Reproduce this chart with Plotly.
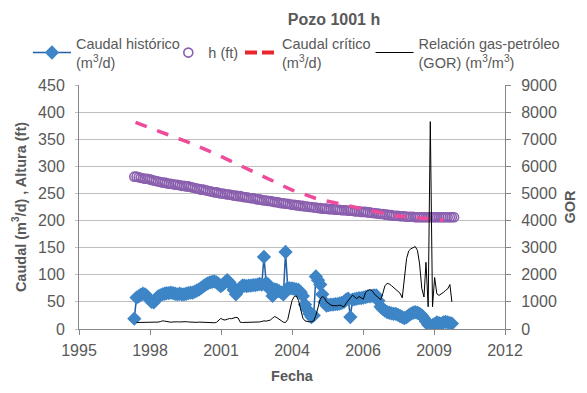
import datetime as dt
import pandas as pd
import plotly.graph_objects as go

# ---------------- data ----------------
# monthly sampling dates (mid-month) starting Dec 1997
month_dates = pd.date_range("1997-12-01", periods=149, freq="MS") + pd.Timedelta(days=14)

caudal_historico = [
    19,
    58, 60, 63, 65, 64, 60, 55, 50, 49, 55, 60, 62,
    64, 65, 66, 66, 67, 66, 65, 64, 65, 64, 64, 65,
    66, 67, 67, 69, 71, 73, 76, 79, 82, 84, 86, 87,
    88, 86, 83, 79, 82, 86, 90, 86, 80, 72, 64, 70,
    76, 80, 80, 79, 80, 80, 81, 81, 82, 83, 82, 133,
    85, 82, 72, 61, 73, 72, 70, 67, 64, 142, 76, 75,
    75, 74, 73, 72, 68, 61, 45, 36, 28, 22, 25, 97,
    90, 82, 64, 50, 43, 44, 45, 45, 46, 46, 47, 48,
    50, 54, 56, 22, 54, 55, 56, 57, 57, 58, 59, 60,
    60, 61, 62, 62, 52, 41, 37, 34, 31, 30, 29, 28,
    28, 26, 24, 22, 20, 22, 25, 28, 30, 31, 30, 28,
    25, 20, 14, 8, 5, 7, 9, 12, 11, 10, 12, 13,
    12, 11, 10,
]

h_ft = [
    281,
    281, 280, 279, 278, 277, 277, 276, 275, 274, 273, 272, 271,
    270, 270, 269, 268, 268, 267, 266, 266, 265, 264, 264, 263,
    263, 262, 261, 260, 259, 258, 257, 257, 256, 255, 254, 253,
    252, 252, 251, 250, 250, 249, 248, 248, 247, 246, 246, 245,
    245, 244, 243, 243, 242, 241, 241, 240, 239, 239, 238, 237,
    237, 236, 236, 235, 234, 234, 233, 232, 232, 231, 231, 230,
    229, 229, 228, 228, 227, 227, 226, 226, 225, 225, 224, 224,
    223, 223, 222, 222, 222, 221, 221, 221, 220, 220, 220, 219,
    219, 219, 218, 218, 218, 217, 217, 217, 216, 216, 216, 215,
    215, 214, 214, 213, 213, 212, 212, 211, 211, 210, 210, 209,
    209, 209, 208, 208, 208, 207, 207, 207, 207, 206, 206, 206,
    206, 206, 206, 206, 206, 206, 206, 206, 206, 206, 206, 206,
    206, 206, 206, 206,
]

gor = [
    240, 240, 235, 240, 245, 240, 245, 250, 250, 245, 255, 270,
    300, 290, 270, 255, 250, 260, 270, 265, 260, 270, 280, 270,
    260, 250, 245, 240, 245, 255, 250, 240, 235, 240, 250, 245,
    230, 245, 300, 390, 350, 330, 360, 385, 380, 400, 430, 410,
    250, 240, 240, 245, 245, 240, 240, 245, 250, 260, 280, 300,
    290, 300, 330, 400, 460, 420, 360, 300, 250, 240, 350, 700,
    1050, 1200, 1220, 1050, 700, 400, 300, 270, 260, 270, 300, 500,
    800, 1100, 1200, 1150, 1000, 920, 880, 860, 850, 860, 880, 850,
    820, 950, 1050, 1150, 1250, 1180, 1120, 1200, 1150, 1100, 1350, 1420,
    1450, 1420, 1300, 1230, 1180, 1080, 1300, 1600, 1680, 1660, 1600, 1530,
    1460, 1400, 1320, 1150, 1800, 2600, 2880, 2960, 3000, 3040, 2900, 2400,
    1500, 1180, 2460, 820, 7650, 820, 1900, 1300, 1240, 1280, 1350, 1420,
    1480, 1640, 1000,
]

critico_dates = ["1998-01-01", "1999-01-01", "2000-01-01", "2001-01-01", "2002-01-01",
                 "2003-01-01", "2004-01-01", "2005-01-01", "2006-01-01", "2007-01-01",
                 "2008-01-01", "2009-01-01", "2009-11-15"]
caudal_critico = [381, 363, 345, 325, 302, 279, 257, 240, 229, 219, 209, 204, 201]

tick_labels = ["1995", "1998", "2001", "2004", "2006", "2009", "2012"]
tick_serials = [35000, 36000, 37000, 38000, 39000, 40000, 41000]

# ---------------- helpers ----------------
def serial_to_date(s):
    return dt.datetime(1899, 12, 30) + dt.timedelta(days=s)

tick_dates = [serial_to_date(s) for s in tick_serials]
x_range = [tick_dates[0], tick_dates[-1]]

GREY = "#595959"
FONT = "Liberation Sans, Arial, sans-serif"

W, H = 587, 393
L, R, T, B = 79, 513, 85, 334
pw, ph = R - L, B - T

def px2x(px):
    return (px - L) / pw

def py2y(py):
    return (B - py) / ph

fig = go.Figure()

fig.add_trace(go.Scatter(
    x=month_dates[:len(caudal_historico)], y=caudal_historico,
    mode="lines+markers",
    name="Caudal histórico<br>(m<sup>3</sup>/d)",
    line=dict(color="#245fa6", width=1.5),
    marker=dict(symbol="diamond", size=11, color="#3d85c6"),
    legend="legend",
))

fig.add_trace(go.Scatter(
    x=month_dates[:len(h_ft)], y=h_ft,
    mode="markers",
    name="h (ft)",
    marker=dict(symbol="circle-open", size=9, color="#8a5fae", line=dict(width=1.6, color="#8a5fae")),
    legend="legend2",
))

fig.add_trace(go.Scatter(
    x=critico_dates, y=caudal_critico,
    mode="lines",
    name="Caudal crítico<br>(m<sup>3</sup>/d)",
    line=dict(color="#ee4c9b", width=3.5, dash="12px,11px"),
    showlegend=False,
))
# legend swatch for the critical flow (shown in red in the reference legend)
fig.add_trace(go.Scatter(
    x=[None], y=[None],
    mode="lines",
    name="Caudal crítico<br>(m<sup>3</sup>/d)",
    line=dict(color="#e8262c", width=4, dash="12px,5px"),
    legend="legend3",
))

fig.add_trace(go.Scatter(
    x=month_dates[1:1 + len(gor)], y=gor,
    mode="lines",
    name="Relación gas-petróleo<br>(GOR) (m<sup>3</sup>/m<sup>3</sup>)",
    line=dict(color="#000000", width=1),
    yaxis="y2",
    legend="legend4",
))

legend_common = dict(
    orientation="v",
    bgcolor="rgba(0,0,0,0)",
    borderwidth=0,
    font=dict(family=FONT, size=14.5, color=GREY),
    xanchor="left",
    yanchor="middle",
    valign="middle",
    tracegroupgap=0,
)

fig.update_layout(
    width=W, height=H,
    margin=dict(l=L, r=W - R, t=T, b=H - B, pad=0),
    paper_bgcolor="white",
    plot_bgcolor="white",
    font=dict(family=FONT, color=GREY),
    title=dict(
        text="<b>Pozo 1001 h</b>",
        x=334 / W, xanchor="center",
        y=1 - 19 / H, yanchor="middle",
        font=dict(family=FONT, size=16, color=GREY),
    ),
    xaxis=dict(
        type="date",
        range=x_range,
        tickmode="array",
        tickvals=tick_dates,
        ticktext=tick_labels,
        ticks="outside", ticklen=5, tickcolor="#868686",
        ticklabelstandoff=2,
        showline=True, linecolor="#868686", linewidth=1,
        showgrid=False, zeroline=False,
        tickfont=dict(family=FONT, size=16, color=GREY),
        title=dict(text="<b>Fecha</b>", font=dict(family=FONT, size=14.5, color=GREY), standoff=12),
    ),
    yaxis=dict(
        range=[0, 450], dtick=50, tick0=0,
        ticks="outside", ticklen=3, tickcolor="#bfbfbf",
        ticklabelstandoff=7,
        showline=True, linecolor="#868686", linewidth=1,
        showgrid=True, gridcolor="#bfbfbf", gridwidth=1,
        zeroline=False,
        tickfont=dict(family=FONT, size=16, color=GREY),
        title=dict(text="<b>Caudal (m<sup>3</sup>/d) , Altura (ft)</b>",
                   font=dict(family=FONT, size=14.5, color=GREY), standoff=8),
    ),
    yaxis2=dict(
        overlaying="y", side="right",
        range=[0, 9000], dtick=1000, tick0=0,
        ticks="outside", ticklen=5, tickcolor="#868686",
        ticklabelstandoff=7,
        showline=True, linecolor="#868686", linewidth=1,
        showgrid=False, zeroline=False,
        tickfont=dict(family=FONT, size=16, color=GREY),
        title=dict(text="<b>GOR</b>", font=dict(family=FONT, size=14.5, color=GREY), standoff=8),
    ),
    legend=dict(legend_common, x=px2x(27), y=py2y(52), itemwidth=38),
    legend2=dict(legend_common, x=px2x(170), y=py2y(52), itemwidth=30),
    legend3=dict(legend_common, x=px2x(243), y=py2y(52), itemwidth=32),
    legend4=dict(legend_common, x=px2x(376), y=py2y(52), itemwidth=38),
)

# remove the default page margin so the figure sits at the window origin
fig.write_html(
    "out.html",
    config={"displayModeBar": False},
    post_script="document.body.style.margin='0';document.body.style.overflow='hidden';",
)
